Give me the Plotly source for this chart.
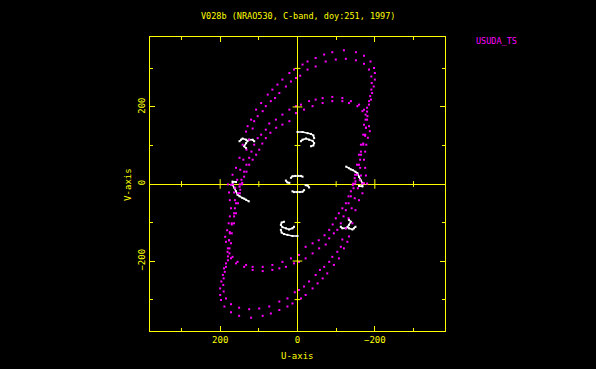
import plotly.graph_objects as go

# Space-baseline tracks (magenta), upper-half branches; conjugates (-u,-v) also plotted
L1_u = [172, 168, 159, 150, 142, 133, 129, 120, 107, 94, 77, 65, 52, 39, 21, 9, -13, -26, -47, -69,
        -90, -120, -151, -172, -189, -198, -200, -200, -197, -193, -190, -185, -180, -180, -177, -175,
        -170, -164, -159, -154, -149]
L1_v = [-2, 24, 42, 68, 102, 136, 150, 167, 193, 210, 232, 245, 258, 271, 288, 297, 310, 318, 327, 336,
        342, 347, 342, 333, 318, 301, 288, 271, 253, 236, 219, 206, 188, 167, 146, 128,
        102, 76, 50, 24, 1]
L2_u = [161, 156, 148, 140, 132, 125, 116, 112, 103, 90, 82, 69, 58, 47, 30, 17, 4, -7, -26, -47,
        -73, -99, -125, -151, -172, -185, -191, -192, -191, -188, -185, -180, -176, -172, -170, -164,
        -159, -154, -149, -144]
L2_v = [-10, 11, 37, 63, 89, 115, 144, 163, 176, 189, 202, 215, 223, 236, 253, 266, 275, 281, 297, 305,
        318, 323, 325, 321, 312, 297, 279, 262, 245, 228, 215, 198, 180, 154, 128, 102,
        76, 50, 24, 1]
S1_u = [150, 145, 138, 132, 125, 119, 112, 103, 94, 82, 73, 56, 39, 21, 4, -9, -30, -47, -65, -90,
        -116, -138, -159, -172, -181, -185, -187, -182, -178, -175, -172, -175, -177, -180]
S1_v = [-7, 11, 32, 50, 68, 84, 102, 119, 128, 141, 157, 167, 180, 193, 202, 206, 215, 219, 223, 226,
        223, 215, 206, 193, 176, 150, 137, 120, 102, 84, 63, 42, 22, 1]
S2_u = [148, 143, 138, 132, 125, 116, 107, 99, 91, 82, 70, 55, 39, 21, 4, -17, -39, -65, -90, -116,
        -133, -155, -168, -176, -177, -175, -170, -164, -162, -162, -164, -167]
S2_v = [-15, 3, 19, 32, 50, 63, 76, 89, 105, 119, 133, 146, 154, 163, 184, 193, 202, 210, 215, 215,
        210, 202, 189, 167, 146, 125, 105, 84, 63, 42, 22, 1]

# Ground-baseline tracks (white)
WA_u = [0, -13, -26, -35, -41, -43]
WA_v = [135, 135, 132, 130, 126, 119]
WB_u = [-9, -13, -22, -30, -39, -43, -41, -35]
WB_v = [111, 115, 118, 115, 112, 106, 100, 98]
A1_u = [17, 13, 6, -2, -9, -13]
A1_v = [16, 20, 21, 21, 21, 19]
A2_u = [30, 26, 21]
A2_v = [9, 4, 3]
W3_u = [159, 168, 168, 163, 159, 155, 150, 143, 138, 133, 126]
W3_v = [5, 6, -2, -10, -19, -28, -32, -36, -38, -41, -45]
W4_u = [150, 146, 142, 133, 129, 133, 138, 133]
W4_v = [111, 115, 118, 115, 112, 106, 98, 93]
W4b_u = [125, 116, 112]
W4b_v = [115, 115, 111]

# Axis ticks
major_ticks = [-200, 0, 200]
minor_ticks = [-300, -100, 100, 300]
tick_text = ["\u2212200", "0", "200"]

TITLE = "V028b (NRAO530, C-band, doy:251, 1997)"
STATION = "USUDA_TS"

YEL = "#ffff00"
MAG = "#ff00ff"
FONT = "DejaVu Sans Mono"

# ---------------- build ----------------
def with_conj(tracks):
    xs, ys = [], []
    for u, v in tracks:
        xs += list(u) + [None] + [-a for a in u] + [None]
        ys += list(v) + [None] + [-b for b in v] + [None]
    return xs, ys

mu, mv = with_conj([(L1_u, L1_v), (L2_u, L2_v), (S1_u, S1_v), (S2_u, S2_v)])
wu, wv = with_conj([(WA_u, WA_v), (WB_u, WB_v), (A1_u, A1_v), (A2_u, A2_v),
                    (W3_u, W3_v), (W4_u, W4_v), (W4b_u, W4b_v)])

fig = go.Figure()
fig.add_trace(go.Scatter(x=wu, y=wv, mode="lines+markers",
                         line=dict(color="white", width=1.5),
                         marker=dict(color="white", size=2, symbol="square"),
                         connectgaps=False, hoverinfo="skip", showlegend=False))
fig.add_trace(go.Scatter(x=mu, y=mv, mode="markers",
                         marker=dict(color=MAG, size=2, symbol="square", line=dict(width=0)),
                         hoverinfo="skip", showlegend=False))

RNG = 381.5
# ticks on the zero lines
shapes = []
for t in major_ticks + minor_ticks:
    if t == 0:
        continue
    h = 12.5 if t in major_ticks else 7.5
    shapes.append(dict(type="line", xref="x", yref="y", x0=t, x1=t, y0=-h, y1=h,
                       line=dict(color=YEL, width=1)))
    shapes.append(dict(type="line", xref="x", yref="y", y0=t, y1=t, x0=-h, x1=h,
                       line=dict(color=YEL, width=1)))

axis_common = dict(
    showgrid=False, zeroline=True, zerolinecolor=YEL, zerolinewidth=1,
    showline=True, linecolor=YEL, linewidth=1, mirror="ticks",
    ticks="inside", ticklen=5, tickcolor=YEL, tickwidth=1,
    tickvals=major_ticks, ticktext=tick_text,
    minor=dict(ticks="inside", ticklen=3, tickcolor=YEL, tickwidth=1, tickvals=minor_ticks),
    tickfont=dict(family=FONT, size=9, color=YEL),
)

fig.update_layout(
    width=596, height=369,
    paper_bgcolor="black", plot_bgcolor="black",
    margin=dict(l=150, r=151, t=37, b=38),
    xaxis=dict(range=[RNG, -RNG], **axis_common),
    yaxis=dict(range=[-RNG, RNG], tickangle=-90, **axis_common),
    shapes=shapes,
    annotations=[
        dict(text=TITLE, xref="paper", yref="paper", x=0.50, y=1.071, showarrow=False,
             xanchor="center", yanchor="middle", font=dict(family=FONT, size=8.5, color=YEL)),
        dict(text=STATION, xref="paper", yref="paper", x=1.176, y=0.985, showarrow=False,
             xanchor="center", yanchor="middle", font=dict(family=FONT, size=8.5, color=MAG)),
        dict(text="U-axis", xref="paper", yref="paper", x=0.50, y=-0.085, showarrow=False,
             xanchor="center", yanchor="middle", font=dict(family=FONT, size=9, color=YEL)),
        dict(text="V-axis", xref="paper", yref="paper", x=-0.075, y=0.5, showarrow=False,
             textangle=-90, xanchor="center", yanchor="middle",
             font=dict(family=FONT, size=9, color=YEL)),
    ],
)

fig.write_html("out.html", config={"displayModeBar": False},
               post_script="document.body.style.margin='0';document.body.style.background='black';")
